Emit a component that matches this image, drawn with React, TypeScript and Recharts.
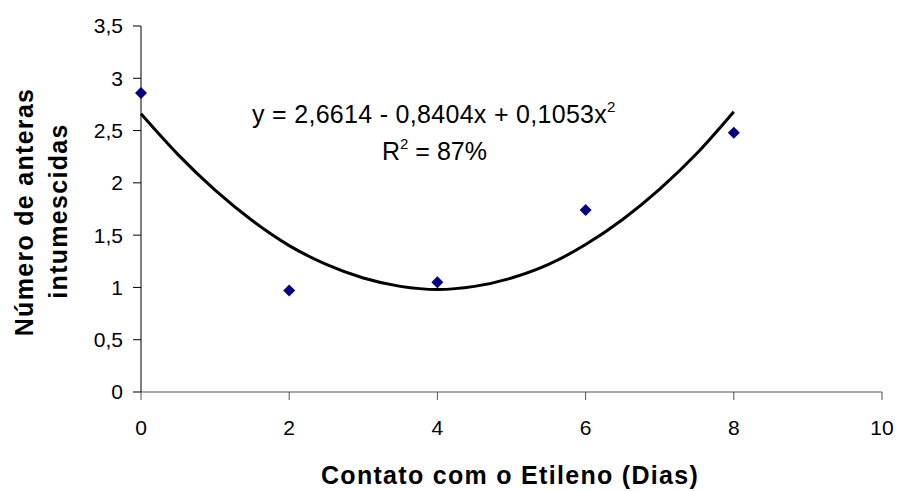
import React from 'react';
import { ComposedChart, Line, Scatter, XAxis, YAxis, Customized } from 'recharts';

const days = [0, 2, 4, 6, 8];
const anteras = [2.86, 0.97, 1.05, 1.74, 2.48];

const curveX = [0, 0.5, 1, 1.5, 2, 2.5, 3, 3.5, 4, 4.5, 5, 5.5, 6, 6.5, 7, 7.5, 8];
const curveY = [2.66, 2.27, 1.93, 1.64, 1.4, 1.22, 1.09, 1.01, 0.98, 1.01, 1.09, 1.22, 1.41, 1.65, 1.94, 2.28, 2.68];

const xTicks = [0, 2, 4, 6, 8, 10];
const yTicks = [0, 0.5, 1, 1.5, 2, 2.5, 3, 3.5];

const points = days.map((d, i) => ({ x: d, y: anteras[i] }));
const curve = curveX.map((d, i) => ({ x: d, trend: curveY[i] }));

const fmt = (v: number) => String(v).replace('.', ',');
const FONT = 'Liberation Sans, Arial, sans-serif';

const Diamond = (props: any) => {
  const { cx, cy } = props;
  const r = 6;
  return <path d={`M${cx},${cy - r}L${cx + r},${cy}L${cx},${cy + r}L${cx - r},${cy}Z`} fill="#000080" />;
};

const Annotations = () => (
  <g fontFamily={FONT} fill="#000">
    <text x={252} y={123} fontSize={25} letterSpacing={0.3}>
      y = 2,6614 - 0,8404x + 0,1053x
      <tspan fontSize={15} dy={-11}>2</tspan>
    </text>
    <text x={382} y={160} fontSize={25}>
      R<tspan fontSize={15} dy={-11}>2</tspan>
      <tspan dy={11}> = 87%</tspan>
    </text>
    <text x={510} y={484} fontSize={25} fontWeight="bold" textAnchor="middle" letterSpacing={1.3}>
      Contato com o Etileno (Dias)
    </text>
    <text transform="translate(33,212) rotate(-90)" fontSize={25} fontWeight="bold" textAnchor="middle" letterSpacing={1.3}>
      Número de anteras
    </text>
    <text transform="translate(67,211) rotate(-90)" fontSize={25} fontWeight="bold" textAnchor="middle" letterSpacing={1.3}>
      intumescidas
    </text>
  </g>
);

export default function App() {
  return (
    <div style={{ position: 'absolute', left: 0, top: 0, background: '#fff' }}>
      <ComposedChart width={898} height={491} margin={{ top: 26, right: 16, bottom: 0, left: 0 }}>
        <XAxis
          dataKey="x"
          type="number"
          domain={[0, 10]}
          ticks={xTicks}
          height={99}
          tickSize={8}
          axisLine={{ stroke: '#555' }}
          tickLine={{ stroke: '#555' }}
          tick={{ fill: '#000', fontSize: 21, fontFamily: FONT, dy: 18 }}
          allowDuplicatedCategory={false}
        />
        <YAxis
          type="number"
          domain={[0, 3.5]}
          ticks={yTicks}
          width={141}
          tickSize={8}
          tickFormatter={fmt}
          axisLine={{ stroke: '#000' }}
          tickLine={{ stroke: '#000' }}
          tick={{ fill: '#000', fontSize: 21, fontFamily: FONT, dx: -8 }}
        />
        <Line
          data={curve}
          dataKey="trend"
          type="monotone"
          stroke="#000"
          strokeWidth={3}
          dot={false}
          activeDot={false}
          isAnimationActive={false}
        />
        <Scatter data={points} dataKey="y" shape={<Diamond />} isAnimationActive={false} />
        <Customized component={Annotations} />
      </ComposedChart>
    </div>
  );
}
